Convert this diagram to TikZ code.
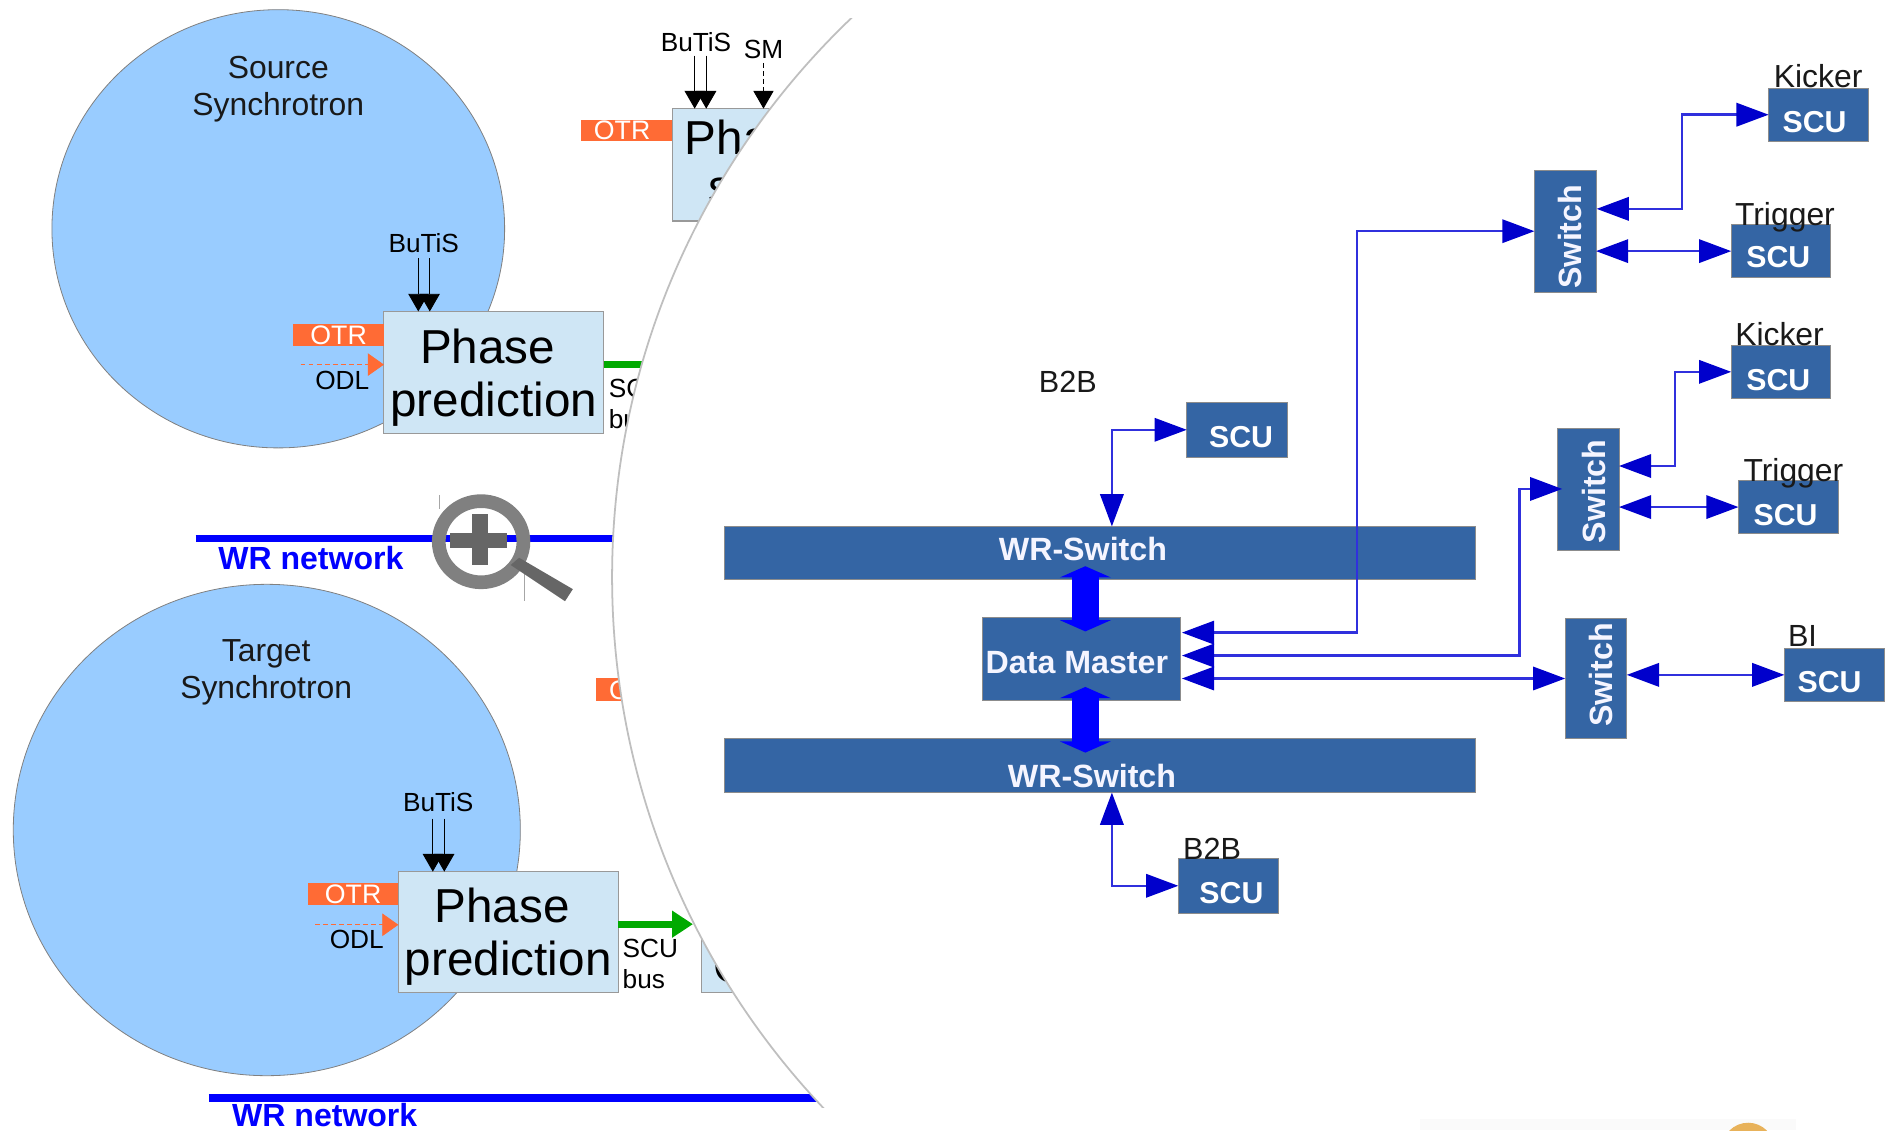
\documentclass[tikz,border=0pt]{standalone}
\usepackage{fontspec}
\setmainfont{Liberation Sans}
\usetikzlibrary{arrows.meta,shapes.geometric,calc}
\definecolor{ringblue}{HTML}{99CCFF}
\definecolor{phasefill}{HTML}{CFE6F5}
\definecolor{otrc}{HTML}{FF6B35}
\definecolor{boxblue}{HTML}{3465A4}
\definecolor{headblue}{HTML}{0000CC}
\definecolor{lineblue}{HTML}{3030DD}
\definecolor{greenbus}{HTML}{00AA00}
\definecolor{discorange}{HTML}{E8B25A}
\newcommand{\fs}[1]{\fontsize{#1}{#1}\selectfont}
\tikzset{
  sz/.style 2 args={minimum width=#1*0.75pt,minimum height=#2*0.75pt,inner sep=0pt,outer sep=0pt},
  ring/.style={ellipse,fill=ringblue,draw=gray,line width=0.5pt},
  phasebox/.style={rectangle,fill=phasefill,draw=black!40,line width=0.7pt,align=center,font=\fontsize{29.6}{33}\selectfont},
  otrbox/.style={rectangle,fill=otrc,text=white,font=\fs{16.6}},
  lab/.style={font=\fs{16.3},inner sep=0pt,align=left},
  biglab/.style={font=\fs{19.8},inner sep=0pt,align=center,text=black!90},
  wrtxt/.style={font=\bfseries\fs{19.9},text=blue,inner sep=0pt},
  wrline/.style={draw=blue,line width=4.5pt},
  bl/.style={rectangle,fill=boxblue,draw=black!45,line width=0.5pt},
  wtxt/.style={font=\bfseries\fs{20},text=white!96!blue,inner sep=0pt},
  scutxt/.style={font=\bfseries\fs{18.8},text=white,inner sep=0pt},
  bt/.style={draw=black,line width=0.6pt,-{Triangle[length=11pt,width=12.5pt,fill=black]}},
  bi/.style={draw=lineblue,line width=1.5pt,{Triangle[length=20pt,width=14.5pt,fill=headblue,color=headblue]}-{Triangle[length=20pt,width=14.5pt,fill=headblue,color=headblue]}},
  thicklink/.style={draw=blue,line width=16.5pt,{Triangle[length=7pt,width=31.5pt,fill=blue,color=blue]}-{Triangle[length=7pt,width=31.5pt,fill=blue,color=blue]}},
  odl/.style={draw=otrc,line width=0.5pt,densely dashed,-{Triangle[length=10pt,width=14pt,fill=otrc,color=otrc]}},
  busg/.style={draw=greenbus,line width=4.5pt},
}
\begin{document}
\begin{tikzpicture}[x=0.75pt,y=-0.75pt]
\useasboundingbox (0,0) rectangle (1568,936);
% faint bottom strip and orange disc
\fill[black!2] (1176,927) rectangle (1488,936);
\begin{scope}
\clip (0,0) rectangle (1568,936);
\fill[discorange] (1448,951.7) circle[radius=16.3pt];
\end{scope}

% synchrotrons
\node[ring,sz={375}{363}] (src) at (230.5,189.5) {};
\node[ring,sz={420}{407}] (tgt) at (221,687.5) {};
\node[biglab] (srct) at (230.5,74) {Source\\[3pt]Synchrotron};
\node[biglab] (tgtt) at (220.5,557) {Target\\[3pt]Synchrotron};

% WR network lines
\coordinate (wra) at (162,446);
\coordinate (wrb) at (520,446);
\coordinate (wrc) at (173,909.5);
\coordinate (wrd) at (690,909.5);
\draw[wrline] (wra) -- (wrb);
\draw[wrline] (wrc) -- (wrd);
\node[wrtxt] (wrt1) at (257.5,462) {WR network};
\node[wrtxt] (wrt2) at (269,924) {WR network};

% phase boxes on the left
\node[phasebox,sz={182}{101}] (pp1) at (409,308.5) {\rule{0pt}{27.5pt}\hspace*{-7.5pt}Phase\\prediction};
\node[phasebox,sz={182}{100}] (pp2) at (421,772) {\rule{0pt}{27.5pt}\hspace*{-7.5pt}Phase\\prediction};
\node[otrbox,sz={75}{19}] (o1) at (280.5,277.5) {OTR};
\node[otrbox,sz={75}{19}] (o2) at (292.5,740.5) {OTR};
\coordinate (oa1) at (249,302);
\coordinate (oe1) at (318,302);
\coordinate (oa2) at (261,766);
\coordinate (oe2) at (330,766);
\draw[odl] (oa1) -- (oe1);
\draw[odl] (oa2) -- (oe2);
\node[lab] (od1) at (283.5,315) {ODL};
\node[lab] (od2) at (295.5,778.5) {ODL};
\node[lab] (bu1) at (351,201) {BuTiS};
\node[lab] (bu2) at (363,664) {BuTiS};
\coordinate (b1a) at (346.5,214);
\coordinate (b1b) at (356,214);
\coordinate (b2a) at (358.5,678);
\coordinate (b2b) at (368,678);
\draw[bt] (b1a) -- (b1a |- pp1.north);
\draw[bt] (b1b) -- (b1b |- pp1.north);
\draw[bt] (b2a) -- (b2a |- pp2.north);
\draw[bt] (b2b) -- (b2b |- pp2.north);

% SCU bus
\coordinate (g1a) at (500,302);
\coordinate (g1b) at (545,302);
\coordinate (g2a) at (512,765.5);
\coordinate (g2b) at (574,765.5);
\node[phasebox,sz={119}{100},anchor=south west] (pb) at (581,822) {};
\node[font=\fs{29.6},inner sep=0pt,anchor=west] (pbt) at (590.5,800) {C};
\draw[busg] (g1a) -- (g1b);
\draw[busg,-{Triangle[length=13pt,width=16pt,fill=greenbus,color=greenbus]}] (g2a) -- (g2b);
\node[lab,anchor=west] (sb1) at (504,322) {SCU};
\node[lab,anchor=west] (sb1b) at (504,347) {bus};
\node[lab,anchor=west] (sb2) at (515.5,786) {SCU};
\node[lab,anchor=west] (sb2b) at (515.5,811) {bus};

% the boxes seen behind the lens
\node[phasebox,sz={143}{93}] (pt) at (628.5,136.5) {};
\node[font=\fs{29.6},inner sep=0pt,anchor=west] (ptt) at (567,114) {Phase};
\node[font=\fs{29.6},inner sep=0pt,anchor=west] (ptu) at (587,158) {s};
\node[otrbox,sz={76}{18}] (o3) at (519,108) {\hspace*{-5.5pt}OTR};
\node[otrbox,sz={76}{19}] (o4) at (531.5,571.5) {\hspace*{-5.5pt}OTR};
\node[lab] (bu3) at (576.5,35) {BuTiS};
\node[lab] (sm) at (632.5,41) {SM};
\coordinate (b3a) at (575.4,46);
\coordinate (b3b) at (585,46);
\coordinate (b3c) at (632.4,52);
\draw[bt] (b3a) -- (b3a |- pt.north);
\draw[bt] (b3b) -- (b3b |- pt.north);
\draw[bt,densely dashed] (b3c) -- (b3c |- pt.north);

% lens
\begin{scope}
\clip (480,15) rectangle (1568,917);
\fill[white] (1147,478) circle[radius=480pt];
\draw[black!25,line width=1.1pt] (1147,478) circle[radius=480pt];
\end{scope}

% magnifier icon
\draw[black!35,line width=0.4pt] (364,410) -- (364,422);
\draw[black!35,line width=0.4pt] (434,475) -- (434,498);
\draw[black!50,line width=8.5pt] (398.5,448.7) ellipse[x radius=26.3pt,y radius=25.2pt];
\fill[black!60] (430,462) -- (474.5,488) -- (468,498) -- (423,468) -- cycle;
\fill[black!60] (373,441.5) rectangle (420,454);
\fill[black!60] (391,426) rectangle (404,468);

% central network
\node[bl,sz={622}{44}] (wr1) at (911,458) {};
\node[bl,sz={622}{44}] (wr2) at (911,634) {};
\node[bl,sz={164.5}{69}] (dm) at (895.7,545.5) {};
\node[bl,sz={83}{45}] (bt1) at (1024.5,356) {};
\node[bl,sz={83}{45}] (bb1) at (1017.5,733.7) {};
\node[bl,sz={51}{101}] (sw1) at (1296.5,191.5) {};
\node[bl,sz={51}{101}] (sw2) at (1315.5,405) {};
\node[bl,sz={51}{100}] (sw3) at (1322,562) {};
\node[bl,sz={83}{44}] (k1) at (1506.5,95) {};
\node[bl,sz={82}{44}] (t1) at (1475,208) {};
\node[bl,sz={82}{44}] (k2) at (1475,308) {};
\node[bl,sz={83}{44}] (t2) at (1481.5,420) {};
\node[bl,sz={83}{44}] (bis) at (1519.5,559) {};

% thick links
\coordinate (th1) at (899,469);
\coordinate (th2) at (899,523);
\coordinate (th3) at (899,569);
\coordinate (th4) at (899,623.4);
\draw[thicklink] (th1) -- (th2);
\draw[thicklink] (th3) -- (th4);

% texts inside boxes
\node[wtxt] (wrs1) at (897,455) {WR-Switch};
\node[wtxt] (wrs2) at (904.5,642.5) {WR-Switch};
\node[wtxt] (dmt) at (892,549) {Data Master};
\node[wtxt,rotate=90] (sw1t) at (1300.5,196) {Switch};
\node[wtxt,rotate=90] (sw2t) at (1320,407) {Switch};
\node[wtxt,rotate=90] (sw3t) at (1326,559) {Switch};
\node[scutxt] (s1) at (1028,362) {SCU};
\node[scutxt] (s2) at (1020,740) {SCU};
\node[scutxt] (s3) at (1503,101) {SCU};
\node[scutxt] (s4) at (1473,213) {SCU};
\node[scutxt] (s5) at (1473,315) {SCU};
\node[scutxt] (s6) at (1479,427) {SCU};
\node[scutxt] (s7) at (1515.5,565) {SCU};

% labels
\node[biglab,font=\fs{19}] (l1) at (884.5,316) {B2B};
\node[biglab,font=\fs{19}] (l2) at (1004,703) {B2B};
\node[biglab] (l3) at (1506,63) {Kicker};
\node[biglab] (l4) at (1478.5,180) {Trigger};
\node[biglab] (l5) at (1474,277) {Kicker};
\node[biglab] (l6) at (1485.5,392) {Trigger};
\node[biglab,font=\fs{19}] (l7) at (1493,527) {BI};

% blue connectors
\coordinate (tc) at (921,436);
\coordinate (bc) at (921,656.5);
\draw[bi] (bt1.west) -| (tc);
\draw[bi] (bb1.west) -| (bc);
\coordinate (dm1) at (979,524);
\coordinate (dm2) at (979,543);
\coordinate (dm3) at (979,562);
\coordinate (c1) at (1124,524);
\coordinate (c2) at (1258.5,543);
\draw[bi] (dm1) -- (c1) |- (sw1.west);
\draw[bi,shorten >=-3pt] (dm2) -- (c2) |- (sw2.west);
\draw[bi] (dm3) -- (sw3.west);
\coordinate (s1k) at (1322.5,173);
\coordinate (k1m) at (1393,173);
\coordinate (s2k) at (1341,386);
\coordinate (k2m) at (1387.5,386);
\draw[bi] (s1k) -- (k1m) |- (k1.west);
\draw[bi] (s2k) -- (k2m) |- (k2.west);
\draw[bi] (t1.west) -- (t1.west -| sw1.east);
\draw[bi] (t2.west) -- (t2.west -| sw2.east);
\draw[bi] (bis.west) -- (bis.west -| sw3.east);
\end{tikzpicture}
\end{document}
